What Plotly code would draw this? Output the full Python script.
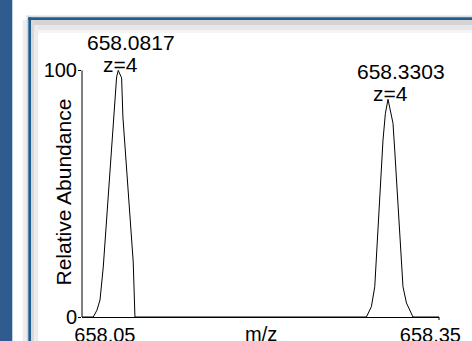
import plotly.graph_objects as go

# ---- data ----
mz = [658.0483, 658.0587, 658.0621, 658.0649, 658.0679, 658.0771, 658.0802, 658.0817,
      658.0848, 658.0860, 658.0943, 658.0955, 658.0971,
      658.3104, 658.3150, 658.3181, 658.3257, 658.3279, 658.3303, 658.3349, 658.3365,
      658.3441, 658.3473, 658.3533, 658.3773]
abundance = [0, 0, 2.8, 6.9, 20.3, 78.7, 97.4, 100,
             97.0, 81.1, 27.2, 22.3, 0,
             0, 4.2, 12.3, 71.8, 82.6, 88.3, 78.6, 67.7,
             12.3, 5.7, 0, 0]

peak_mz = [658.0817, 658.3303]
peak_abundance = [100, 88.3]
peak_labels = ["658.0817", "658.3303"]
charge_labels = ["z=4", "z=4"]

x_range = [658.0483, 658.3773]
y_range = [0, 101.4]
x_tick_vals = [658.05, 658.35]
x_tick_text = ["658.05", "658.35"]
y_tick_vals = [0, 100]
y_tick_text = ["0", "100"]

FONT = "Arial, Liberation Sans, sans-serif"
W, H = 472, 341
L, R, T, B = 82, 33, 67, 24
PW, PH = W - L - R, H - T - B


def px(x):
    return (x - L) / PW


def py(y):
    return (H - B - y) / PH


fig = go.Figure()
fig.add_trace(go.Scatter(x=mz, y=abundance, mode="lines",
                         line=dict(color="black", width=1), hoverinfo="skip",
                         showlegend=False))

annotations = []
for xm, ya, t1, t2 in zip(peak_mz, peak_abundance, peak_labels, charge_labels):
    annotations.append(dict(x=xm, y=ya, xref="x", yref="y", text=t2, showarrow=False,
                            xanchor="center", yanchor="middle", xshift=2.5, yshift=6,
                            font=dict(family=FONT, size=21, color="black")))
    annotations.append(dict(x=xm, y=ya, xref="x", yref="y", text=t1, showarrow=False,
                            xanchor="center", yanchor="middle", xshift=12.5, yshift=27.5,
                            font=dict(family=FONT, size=21, color="black")))

annotations.append(dict(x=px(63), y=py(192.5), xref="paper", yref="paper",
                        text="Relative Abundance", textangle=-90, showarrow=False,
                        xanchor="center", yanchor="middle",
                        font=dict(family=FONT, size=21, color="black")))
annotations.append(dict(x=px(260.5), y=py(334), xref="paper", yref="paper",
                        text="m/z", showarrow=False, xanchor="center", yanchor="middle",
                        font=dict(family=FONT, size=20, color="black")))

shapes = []


def rect(x0, y0, x1, y1, color):
    shapes.append(dict(type="rect", xref="paper", yref="paper",
                       x0=px(x0), x1=px(x1), y0=py(y1), y1=py(y0),
                       fillcolor=color, line=dict(width=0), layer="below"))


# window frame decoration
rect(0, 0, 12.3, 341, "#2f5b8e")
rect(26, 15.5, 472, 17.3, "#dcdcdc")
rect(22.7, 20, 26.7, 341, "#ededed")
rect(26.7, 18, 28.3, 341, "#d2d2d2")
rect(31, 20, 472, 25, "#d4d4d4")
rect(31, 25, 472, 30, "#e7e7e7")
rect(31, 30, 472, 33, "#f5f5f5")
rect(31, 20, 34.3, 341, "#d8d8d8")
rect(34.3, 25, 38.3, 341, "#ececec")
rect(28.3, 17.3, 31, 341, "#1f5c8f")
rect(28.3, 17.3, 472, 20, "#1f5c8f")

# y axis line up to 100
shapes.append(dict(type="line", xref="x domain", yref="y", x0=0, x1=0, y0=0, y1=100,
                   line=dict(color="black", width=1)))
# right-end tick of x axis
shapes.append(dict(type="line", xref="x domain", yref="paper", x0=1, x1=1, y0=0,
                   y1=-3 / PH, line=dict(color="black", width=1)))

fig.update_layout(
    width=W, height=H, autosize=False,
    margin=dict(l=L, r=R, t=T, b=B, pad=0, autoexpand=False),
    paper_bgcolor="white", plot_bgcolor="white",
    font=dict(family=FONT, size=20, color="black"),
    showlegend=False,
    annotations=annotations,
    shapes=shapes,
    xaxis=dict(range=x_range, showgrid=False, zeroline=False, showline=True,
               automargin=False,
               linecolor="black", linewidth=1, ticks="", tickvals=x_tick_vals,
               ticktext=x_tick_text, ticklabelshift=21,
               tickfont=dict(family=FONT, size=20, color="black")),
    yaxis=dict(range=y_range, showgrid=False, zeroline=False, showline=False,
               automargin=False, ticklabelstandoff=-3,
               ticks="outside", ticklen=3, tickcolor="black", tickwidth=1,
               tickvals=y_tick_vals, ticktext=y_tick_text,
               tickfont=dict(family=FONT, size=20, color="black")),
)

fig.write_html("out.html", config={"displayModeBar": False},
               post_script="document.body.style.margin='0';document.body.style.overflow='hidden';")
